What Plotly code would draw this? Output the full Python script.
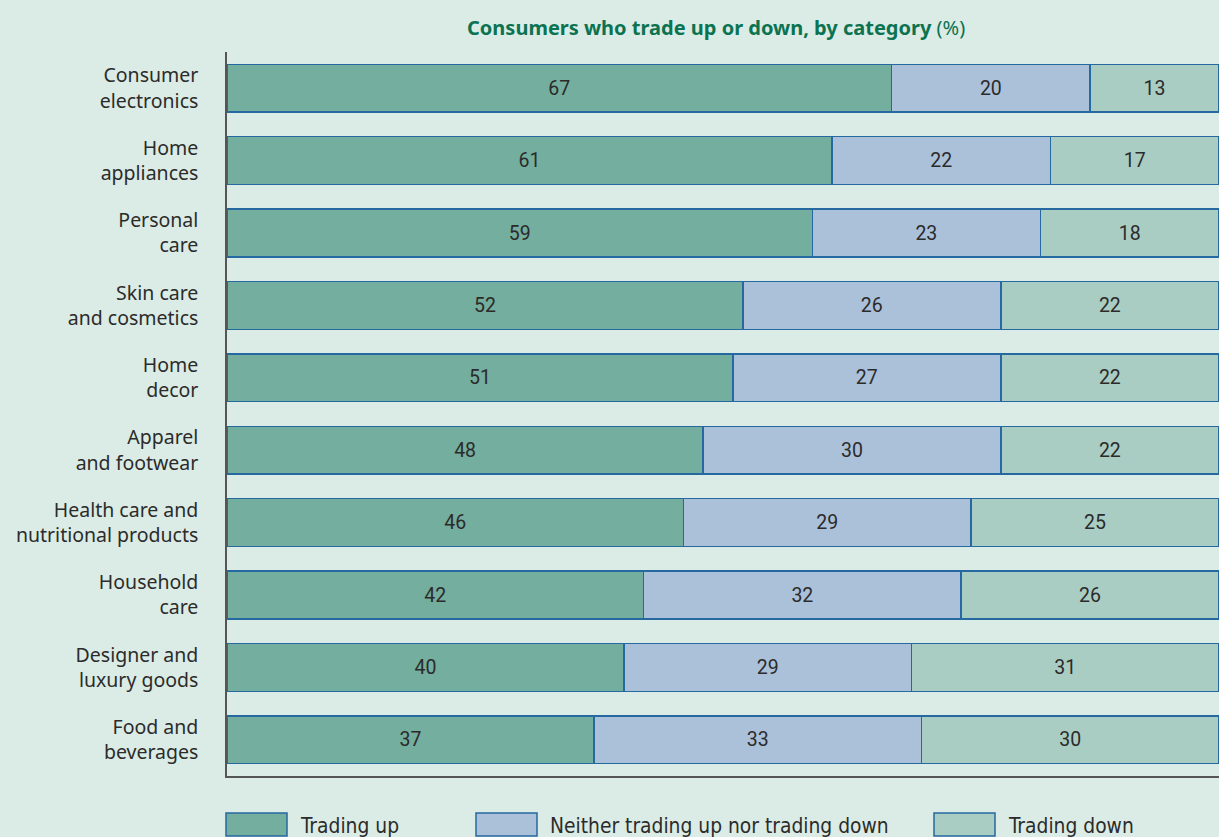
import plotly.graph_objects as go

categories = ["Consumer<br>electronics", "Home<br>appliances", "Personal<br>care",
              "Skin care<br>and cosmetics", "Home<br>decor", "Apparel<br>and footwear",
              "Health care and<br>nutritional products", "Household<br>care",
              "Designer and<br>luxury goods", "Food and<br>beverages"]
trading_up = [67, 61, 59, 52, 51, 48, 46, 42, 40, 37]
neither = [20, 22, 23, 26, 27, 30, 29, 32, 29, 33]
trading_down = [13, 17, 18, 22, 22, 22, 25, 26, 31, 30]
series_names = ["Trading up", "Neither trading up nor trading down", "Trading down"]
series_colors = ["#74ae9e", "#abc1da", "#aacdc3"]

BG = "#dbebe5"
OUTLINE = "#2668a0"
W, H = 1219, 837
L, R, T, B = 227, 0, 52, 61

fig = go.Figure()
for name, vals, col in zip(series_names, [trading_up, neither, trading_down], series_colors):
    fig.add_trace(go.Bar(
        y=categories, x=vals, name=name, orientation="h",
        marker=dict(color=col, line=dict(color=OUTLINE, width=1.5)),
        width=0.66,
        text=vals, textposition="inside", insidetextanchor="middle", textangle=0,
        textfont=dict(family="Roboto", size=19.5, color="#2b2b2b"),
        showlegend=False, hoverinfo="x+y",
    ))

fig.update_layout(
    width=W, height=H, barmode="stack",
    paper_bgcolor=BG, plot_bgcolor=BG,
    margin=dict(l=L, r=R, t=T, b=B),
    font=dict(family="Noto Sans", color="#2b2b2b"),
    xaxis=dict(range=[0, 100], showgrid=False, showticklabels=False, zeroline=False,
               showline=True, linecolor="#555555", linewidth=2, ticks=""),
    yaxis=dict(autorange="reversed", showgrid=False, zeroline=False,
               showline=True, linecolor="#555555", linewidth=1.5, ticks="",
               ticklabelstandoff=23, tickfont=dict(family="Noto Sans", size=19.5, color="#2b2b2b")),
)

def px_x(px):
    return (px - L) / (W - L - R)

def px_y(py):
    return (H - B - py) / (H - T - B)

fig.add_annotation(
    xref="paper", yref="paper", x=px_x(716), y=px_y(27), xanchor="center", yanchor="middle",
    text="<b>Consumers who trade up or down, by category</b> (%)", showarrow=False,
    font=dict(family="Noto Sans", size=20, color="#0b7351"),
)

legend_box_x = [226, 476, 934]
for nm, col, bx in zip(series_names, series_colors, legend_box_x):
    fig.add_shape(type="rect", xref="paper", yref="paper",
                  x0=px_x(bx), x1=px_x(bx + 61), y0=px_y(836), y1=px_y(813),
                  fillcolor=col, line=dict(color=OUTLINE, width=1.5))
    fig.add_annotation(xref="paper", yref="paper", x=px_x(bx + 72), y=px_y(826),
                       xanchor="left", yanchor="middle", text=nm, showarrow=False,
                       font=dict(family="DejaVu Sans Condensed, Liberation Sans Narrow, Roboto",
                                 size=20.8, color="#2b2b2b"))

fig.write_html("out.html")
